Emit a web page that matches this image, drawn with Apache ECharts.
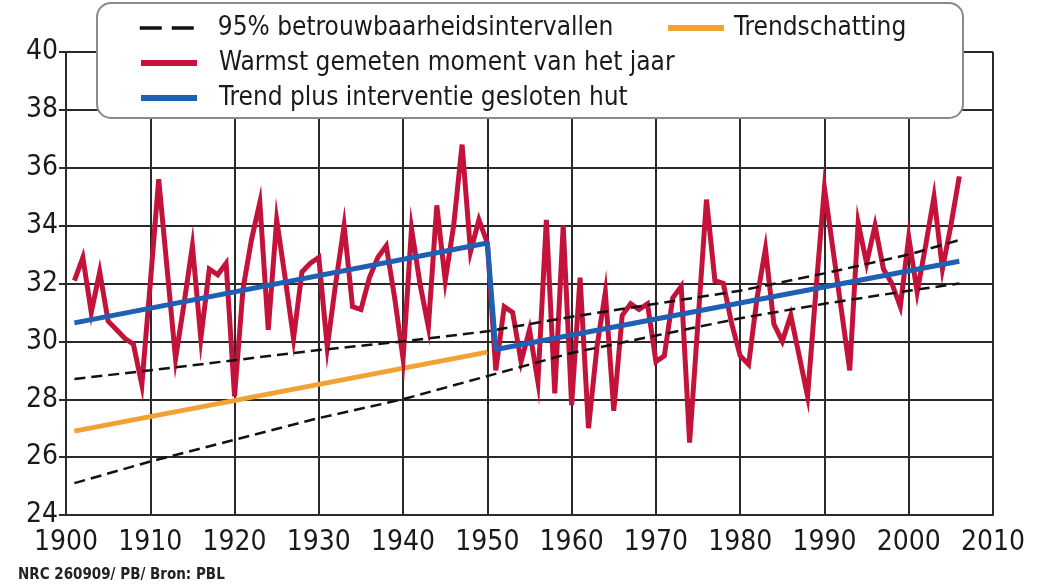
<!DOCTYPE html>
<html>
<head>
<meta charset="utf-8">
<script src="https://cdn.jsdelivr.net/npm/echarts@6/dist/echarts.min.js"></script>
<style>
html,body{margin:0;padding:0;background:#fff;}
#c{width:1038px;height:587px;}
</style>
</head>
<body>
<div id="c"></div>
<script>
// ---- data ----
const firstYear = 1901;
const warmestValues = [
  32.1, 32.9, 31.0, 32.4, 30.7, 30.4, 30.1, 29.9, 28.5, 32.0,   // 1901-1910
  35.6, 32.5, 29.4, 31.3, 33.3, 30.1, 32.5, 32.3, 32.7, 28.1,   // 1911-1920
  31.8, 33.5, 34.8, 30.4, 34.2, 32.2, 30.1, 32.4, 32.7, 32.9,   // 1921-1930
  29.8, 32.0, 34.0, 31.2, 31.1, 32.2, 32.9, 33.3, 31.5, 29.4,   // 1931-1940
  33.9, 32.0, 30.5, 34.7, 32.1, 34.0, 36.8, 33.1, 34.2, 33.4,   // 1941-1950
  29.0, 31.2, 31.0, 29.3, 30.4, 28.6, 34.2, 28.2, 34.0, 27.8,   // 1951-1960
  32.2, 27.0, 29.8, 31.7, 27.6, 30.9, 31.3, 31.1, 31.3, 29.3,   // 1961-1970
  29.5, 31.5, 31.9, 26.5, 30.7, 34.9, 32.1, 32.0, 30.6, 29.5,   // 1971-1980
  29.2, 31.5, 33.2, 30.6, 30.0, 30.9, 29.5, 28.1, 31.8, 35.3,   // 1981-1990
  33.2, 31.1, 29.0, 34.1, 32.7, 34.0, 32.5, 32.0, 31.2, 33.6,   // 1991-2000
  31.7, 33.3, 35.0, 32.5, 34.0, 35.7                            // 2001-2006
];
const trendYears = [1901, 1950];
const trendValues = [26.9, 29.63];
const interventionYears = [1901, 1950, 1951, 2006];
const interventionValues = [30.64, 33.4, 29.72, 32.77];
const ciYears = [1901, 1910, 1920, 1930, 1940, 1950, 1960, 1970, 1980, 1990, 2000, 2006];
const ciUpper = [28.7, 29.0, 29.35, 29.7, 30.0, 30.35, 30.85, 31.3, 31.75, 32.35, 33.0, 33.5];
const ciLower = [25.1, 25.85, 26.6, 27.35, 28.0, 28.8, 29.6, 30.2, 30.8, 31.3, 31.75, 32.0];
const yTicks = [24, 26, 28, 30, 32, 34, 36, 38, 40];
const xTicks = [1900, 1910, 1920, 1930, 1940, 1950, 1960, 1970, 1980, 1990, 2000, 2010];

const NAME_CI = '95% betrouwbaarheidsintervallen';
const NAME_TREND = 'Trendschatting';
const NAME_WARM = 'Warmst gemeten moment van het jaar';
const NAME_INT = 'Trend plus interventie gesloten hut';
const FOOTER = 'NRC 260909/ PB/ Bron: PBL';

// ---- build ----
const zip = (xs, ys) => xs.map((x, i) => [x, ys[i]]);
const warmData = warmestValues.map((v, i) => [firstYear + i, v]);

const FONT = '"Liberation Sans Narrow", "DejaVu Sans Condensed", "Roboto Condensed", sans-serif';
const RED = '#c3133a', BLUE = '#1f5fb4', ORANGE = '#f2a235', GRIDC = '#2a2a2a';

const chart = echarts.init(document.getElementById('c'), null, {renderer: 'canvas'});
const textBase = {fontFamily: FONT, fontSize: 26, color: '#1a1a1a', padding: [0, 0, 0, 17]};
const legendBase = {
  orient: 'horizontal', itemWidth: 56, itemHeight: 14, selectedMode: false,
  itemStyle: {opacity: 0},
  lineStyle: {width: 6},
  textStyle: textBase
};
chart.setOption({
  backgroundColor: '#ffffff',
  animation: false,
  grid: {left: 66, right: 45, top: 52, bottom: 72, containLabel: false},
  xAxis: {
    type: 'value', min: xTicks[0], max: xTicks[xTicks.length - 1], interval: 10,
    axisLine: {show: true, lineStyle: {color: GRIDC, width: 2}},
    axisTick: {show: false},
    splitLine: {show: true, lineStyle: {color: GRIDC, width: 2}},
    axisLabel: {fontFamily: FONT, fontSize: 28, color: '#1a1a1a', margin: 14,
      formatter: v => String(v)}
  },
  yAxis: {
    type: 'value', min: yTicks[0], max: yTicks[yTicks.length - 1], interval: 2,
    axisLine: {show: true, lineStyle: {color: GRIDC, width: 2}},
    axisTick: {show: true, length: 7, lineStyle: {color: GRIDC, width: 2}},
    splitLine: {show: true, lineStyle: {color: GRIDC, width: 2}},
    axisLabel: {fontFamily: FONT, fontSize: 28, color: '#1a1a1a', margin: 8}
  },
  legend: [
    Object.assign({}, legendBase, {data: [NAME_CI], left: 133, top: 10,
      lineStyle: {width: 3.5, type: [22, 10]}}),
    Object.assign({}, legendBase, {data: [NAME_TREND], left: 660, top: 10,
      textStyle: Object.assign({}, textBase, {padding: [0, 0, 0, 5]})}),
    Object.assign({}, legendBase, {data: [NAME_WARM], left: 133, top: 45}),
    Object.assign({}, legendBase, {data: [NAME_INT], left: 133, top: 80})
  ],
  graphic: [
    {type: 'rect', z: 3, shape: {x: 97, y: 3, width: 866, height: 115, r: 14},
     style: {fill: '#ffffff', stroke: '#8a8a8a', lineWidth: 2}},
    {type: 'text', left: 18, top: 568, z: 5,
     style: {text: FOOTER, font: 'bold 15px ' + FONT, fill: '#222'}}
  ],
  series: [
    {name: NAME_TREND, type: 'line', data: zip(trendYears, trendValues), symbol: 'none', z: 2,
     lineStyle: {color: ORANGE, width: 5}, itemStyle: {color: ORANGE}},
    {name: NAME_WARM, type: 'line', data: warmData, symbol: 'none', z: 3,
     lineStyle: {color: RED, width: 5, join: 'miter'}, itemStyle: {color: RED}},
    {name: NAME_CI, type: 'line', data: zip(ciYears, ciUpper), symbol: 'none', z: 4,
     lineStyle: {color: '#111', width: 2.5, type: [11, 6]}, itemStyle: {color: '#111'}},
    {name: NAME_CI, type: 'line', data: zip(ciYears, ciLower), symbol: 'none', z: 4,
     lineStyle: {color: '#111', width: 2.5, type: [11, 6]}, itemStyle: {color: '#111'}},
    {name: NAME_INT, type: 'line', data: zip(interventionYears, interventionValues), symbol: 'none', z: 5,
     lineStyle: {color: BLUE, width: 5}, itemStyle: {color: BLUE}}
  ]
});
</script>
</body>
</html>
